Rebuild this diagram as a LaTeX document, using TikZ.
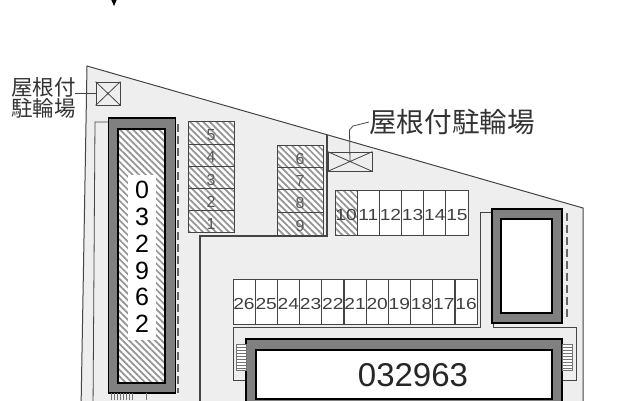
\documentclass[tikz,border=0pt]{standalone}
\usepackage{fontspec}
\setmainfont{Liberation Sans}
\newfontfamily\jpfont{Noto Sans CJK JP}
\newfontfamily\numfont[FakeStretch=1.2]{Liberation Sans}
\usetikzlibrary{positioning, patterns.meta}
\definecolor{site}{HTML}{EEEEEE}
\definecolor{wall}{HTML}{808080}
\definecolor{edgegray}{HTML}{444444}
\tikzset{
    x=1pt, y=-1pt,
    hatch/.style={preaction={fill=white}, pattern={Lines[angle=-45, distance=4.6pt, line width=1.7pt]}, pattern color=black!42}, % striped areas
    slot/.style={draw=edgegray, line width=0.8pt, fill=white, minimum width=22.17pt, minimum height=45pt, inner sep=0pt},
    slotno/.style={inner sep=0pt, yshift=-2.5pt, text=black!75, font=\numfont\fontsize{16}{16}\selectfont},
    bike/.style={draw=edgegray, line width=0.8pt, minimum width=46pt, minimum height=22.4pt, inner sep=0pt, hatch},
    bikeno/.style={inner sep=0pt, yshift=-2pt, text=black!65, font=\fontsize{16}{16}\selectfont},
    shed/.style={draw=edgegray, line width=0.8pt, inner sep=0pt, fill=site},
    outerwall/.style={draw=black, line width=1.4pt, fill=wall, inner sep=0pt},
    innerwall/.style={draw=black, line width=1.8pt, fill=white, inner sep=0pt},
    lead/.style={draw=edgegray, line width=0.8pt},
    fence/.style={draw=edgegray, line width=0.8pt},
    eaves/.style={draw=black!60, line width=1.2pt, dash pattern=on 8pt off 4pt},
    stair/.style={draw=black!55, line width=0.7pt, fill=white},
    jplabel/.style={inner sep=0pt, text=black!80, font=\jpfont\fontsize{#1}{#1}\selectfont}
}
\begin{document}
\begin{tikzpicture}
    \useasboundingbox (0,0) rectangle (640,400);
    \clip (0,0) rectangle (640,400);
    % north mark
    \fill[black] (110.5,-2) -- (117.5,-2) -- (114,6) -- cycle;
    % site
    \draw[fill=site, draw=edgegray, line width=1pt] (87,66) -- (583,208) -- (583,410) -- (81,410) -- cycle;
    \draw[fence] (108,122) -- (95,122) -- (93,410);
    \draw[fence, line width=1.2pt] (327,135) -- (327,236) -- (200,236) -- (200,410);
    \draw[fence] (233,380) -- (233,327) -- (480,327) -- (480,212) -- (492,212);
    \draw[fence] (493,323) -- (493,327) -- (576,327) -- (576,380) -- (562,380);
    \draw[fence] (233,380) -- (246,380);

    % buildings
    \node[outerwall, minimum width=67pt, minimum height=275pt] (B1) at (142,255.5) {};
    \node[innerwall, hatch, minimum width=47pt, minimum height=254pt] (B1in) at (141.5,256) {};
    \node[fill=white, minimum width=28pt, minimum height=165pt, inner sep=0pt] (B1no) at (142,257.5) {};
    \foreach \d/\yy in {0/190, 3/217, 2/244, 9/271, 6/297, 2/324}
        \node[inner sep=0pt, font=\fontsize{25}{25}\selectfont] (B1d\yy) at (142,\yy) {\d};
    \node[outerwall, minimum width=70pt, minimum height=114pt] (B2) at (527,266) {};
    \node[innerwall, minimum width=51pt, minimum height=94pt] (B2in) at (526.5,266) {};
    \node[outerwall, minimum width=316pt, minimum height=90pt] (B3) at (404,384) {};
    \node[innerwall, minimum width=296pt, minimum height=49pt] (B3in) at (404,374.5) {};
    \node[inner sep=0pt, text=black!85, font=\fontsize{33}{33}\selectfont] (B3no) at (413,375) {032963};

    % dashed eaves
    \draw[eaves] (178,124) -- (178,393);
    \draw[eaves] (567,213) -- (567,318);

    % stairs
    \foreach \xx in {236,562} {
        \draw[stair] (\xx,344) rectangle ++(10,26);
        \foreach \s in {347,350,...,368}
            \draw[black!55, line width=0.7pt] (\xx,\s) -- ++(10,0);
    }
    \foreach \s in {111,114,...,134}
        \draw[black!55, line width=0.8pt] (\s,393) -- (\s,400);
    \draw[black!55, line width=0.8pt] (146,393) -- (146,400);

    % bicycle rows, hatched
    \foreach \n/\yy in {5/133, 4/155.2, 3/177.5, 2/199.8, 1/221.5} {
        \node[bike] (P\n) at (211,\yy) {};
        \node[bikeno] at (P\n) {\n};
    }
    \foreach \n/\yy in {6/157, 7/179, 8/201, 9/224} {
        \node[bike, minimum height=22.3pt] (P\n) at (300,\yy) {};
        \node[bikeno] at (P\n) {\n};
    }

    % parking 10-15
    \foreach \n [evaluate=\n as \xx using {346.1+(\n-10)*22.17}] in {10,...,15}
        \node[slot] (P\n) at (\xx,212.5) {};
    \node[bike, minimum width=22.17pt, minimum height=45pt] (P10h) at (P10) {};
    \foreach \n in {10,...,15}
        \node[slotno] at (P\n) {\n};

    % parking 16-26
    \foreach \n [evaluate=\n as \xx using {466+(16-\n)*22.2}] in {16,...,26} {
        \node[slot] (P\n) at (\xx,301.5) {};
        \node[slotno] at (P\n) {\n};
    }

    % roofed bicycle sheds
    \node[shed, minimum width=24pt, minimum height=23pt] (S1) at (108,93.5) {};
    \draw[lead] (S1.north west) -- (S1.south east) (S1.north east) -- (S1.south west);
    \node[shed, minimum width=44pt, minimum height=19pt] (S2) at (350,161.5) {};
    \draw[lead] (S2.north west) -- (S2.south east) (S2.north east) -- (S2.south west);

    % labels
    \node[jplabel=21.5, anchor=west] (L1a) at (11,87) {屋根付};
    \node[jplabel=21.5, below=1.5pt of L1a.south west, anchor=north west] (L1b) {駐輪場};
    \node[jplabel=27.6, anchor=west] (L2) at (369,122) {屋根付駐輪場};
    \coordinate (L1end) at (75,93.5);
    \draw[lead] (L1end) -- (S1.west);
    \draw[lead] (L2.west) -- (353,126) -- (349.5,130) -- (S2.center);
\end{tikzpicture}
\end{document}
